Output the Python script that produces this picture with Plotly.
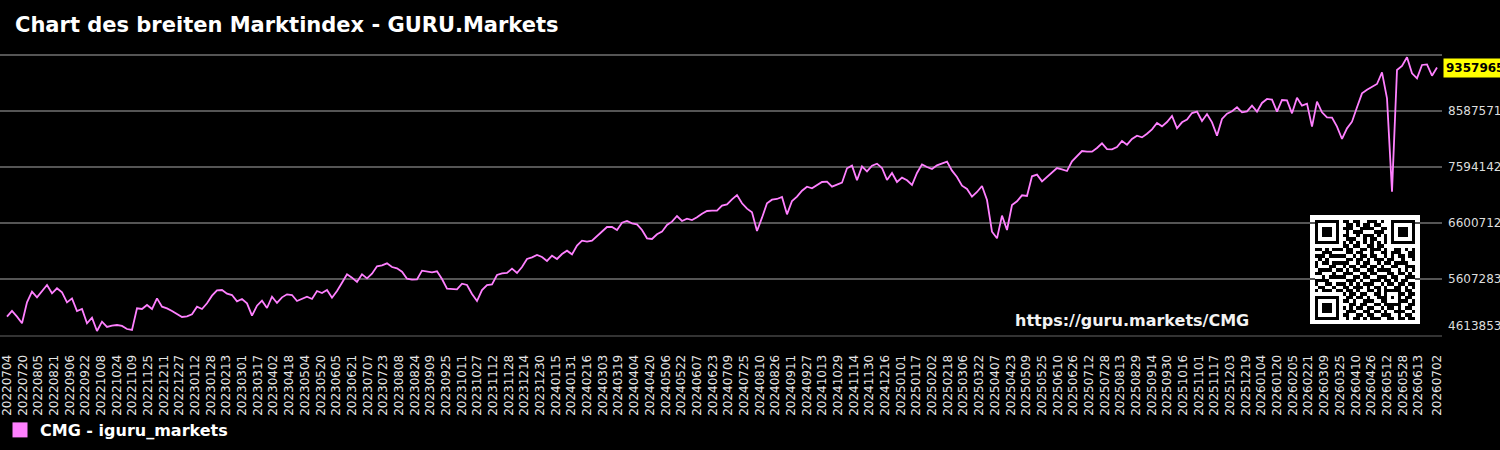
import pandas as pd
import plotly.graph_objects as go

# ---------------- data ----------------
title_text = "Chart des breiten Marktindex - GURU.Markets"
series_name = "CMG - iguru_markets"
url_text = "https://guru.markets/CMG"
start_date = "2022-07-04"
end_date = "2026-07-02"

cmg_values = [
    4939000, 5040000, 4939000, 4821000, 5193000, 5383000, 5282000, 5383000, 5501000, 5353000,
    5442000, 5371000, 5193000, 5264000, 5040000, 5075000, 4821000, 4921000, 4685000, 4850000,
    4756000, 4780000, 4791000, 4774000, 4720000, 4703000, 5087000, 5075000, 5146000, 5075000,
    5264000, 5117000, 5087000, 5040000, 4992000, 4933000, 4945000, 4981000, 5117000, 5075000,
    5176000, 5312000, 5406000, 5412000, 5347000, 5323000, 5211000, 5253000,
    5176000, 4957000, 5134000, 5223000, 5093000, 5294000, 5182000, 5282000, 5335000, 5323000,
    5217000, 5253000, 5294000, 5253000, 5394000, 5359000, 5412000, 5276000, 5394000, 5542000,
    5690000, 5631000, 5554000, 5690000, 5619000, 5702000, 5832000, 5850000, 5885000, 5820000,
    5797000, 5737000, 5613000, 5595000, 5601000, 5755000, 5737000, 5726000, 5743000, 5607000,
    5436000, 5430000, 5424000, 5525000, 5501000, 5341000, 5217000, 5412000,
    5501000, 5513000, 5678000, 5708000, 5714000, 5791000, 5714000, 5820000, 5962000, 5992000,
    6033000, 5998000, 5927000, 6021000, 5962000, 6051000, 6110000, 6045000, 6199000, 6287000,
    6270000, 6287000, 6370000, 6465000, 6530000, 6530000, 6477000, 6607000, 6636000, 6595000,
    6577000, 6477000, 6329000, 6317000, 6400000, 6447000, 6565000, 6624000, 6725000, 6636000,
    6678000, 6654000, 6701000, 6766000, 6814000, 6820000, 6820000, 6908000,
    6932000, 7021000, 7097000, 6950000, 6855000, 6790000, 6459000, 6695000, 6950000, 7015000,
    7027000, 7062000, 6754000, 6991000, 7068000, 7174000, 7245000, 7216000, 7269000, 7328000,
    7334000, 7245000, 7281000, 7316000, 7571000, 7618000, 7358000, 7606000, 7517000, 7618000,
    7653000, 7576000, 7364000, 7488000, 7328000, 7405000, 7358000, 7275000, 7488000, 7641000,
    7594000, 7559000, 7624000, 7653000, 7689000, 7529000, 7417000, 7263000,
    7204000, 7068000, 7151000, 7257000, 7009000, 6447000, 6329000, 6731000, 6477000, 6920000,
    6985000, 7092000, 7080000, 7429000, 7458000, 7340000, 7417000, 7499000, 7576000, 7553000,
    7523000, 7695000, 7783000, 7878000, 7866000, 7866000, 7931000, 8014000, 7913000, 7908000,
    7949000, 8055000, 7990000, 8091000, 8150000, 8120000, 8185000, 8262000, 8375000, 8316000,
    8392000, 8499000, 8280000, 8387000, 8434000, 8552000, 8576000, 8410000,
    8534000, 8387000, 8150000, 8446000, 8540000, 8582000, 8653000, 8564000, 8582000, 8682000,
    8576000, 8730000, 8801000, 8789000, 8576000, 8783000, 8777000, 8546000, 8824000, 8682000,
    8718000, 8310000, 8753000, 8564000, 8475000, 8469000, 8310000, 8091000, 8280000, 8398000,
    8653000, 8901000, 8966000, 9013000, 9067000, 9274000, 8812000, 7157000, 9315000, 9386000,
    9540000, 9256000, 9167000, 9404000, 9415000, 9214000, 9357965,
]

dates = pd.date_range(start_date, end_date, periods=len(cmg_values))

tick_dates = list(pd.date_range(start_date, "2026-06-13", freq="16D")) + [pd.Timestamp(end_date)]
tick_labels = [d.strftime("%Y%m%d") for d in tick_dates]

y_bottom_label = "4613853"
y_tick_values = [5607283, 6600712, 7594142, 8587571, 9581003]
y_tick_labels = ["5607283", "6600712", "7594142", "8587571", ""]
y_range = [4613853, 9616500]

qr_rows = [
    "11111110110110011101001111111",
    "10000010011010110110001000001",
    "10111010111001111001101011101",
    "10111010010111000111001011101",
    "10111010110010111010101011101",
    "10000010011100101100101000001",
    "11111110101010101010101111111",
    "00000000110110011011000000000",
    "11010111011001101110100110101",
    "00111000011011001001101110011",
    "11101111100101101100101011011",
    "01010000011011010111011001001",
    "10110111110010110010110111100",
    "10001100101101101101001100111",
    "01111011010110011011110010101",
    "11000100111001101100011011010",
    "00101111100110110011101100111",
    "11110000011101001110110101100",
    "10011011101010111001011011011",
    "01100100110111010110100110101",
    "10111011011010011010111110110",
    "00000000101101100110100011011",
    "11111110011011010011101010110",
    "10000010110100111001100011101",
    "10111010001101100110111110011",
    "10111010101011011001011010110",
    "10111010011100110110100111001",
    "10000010110011011001110010110",
    "11111110010110101110011011011",
]
qr_z = [[int(c) for c in row] for row in qr_rows]

line_color = "#ff80ff"

# ---------------- figure ----------------
fig = go.Figure()
fig.add_trace(go.Scatter(
    x=dates, y=cmg_values, mode="lines",
    line=dict(color=line_color, width=1.8),
    showlegend=False, hoverinfo="x+y",
))
fig.add_trace(go.Scatter(
    x=[None], y=[None], mode="markers",
    marker=dict(symbol="square", size=15, color=line_color),
    name=series_name, showlegend=True,
))
fig.add_trace(go.Heatmap(
    z=qr_z, xaxis="x2", yaxis="y2",
    colorscale=[[0, "#ffffff"], [1, "#000000"]], zmin=0, zmax=1,
    showscale=False, hoverinfo="skip",
))

W, H = 1500, 450
pl, pr, pt, pb = 0, 1442, 53, 335
plot_w, plot_h = pr - pl, pb - pt

def px_x(x):
    return (x - pl) / plot_w

def px_y(y):
    return (pb - y) / plot_h

fig.update_layout(
    width=W, height=H,
    paper_bgcolor="#000000", plot_bgcolor="#000000",
    margin=dict(l=pl, r=W - pr, t=pt, b=H - pb, autoexpand=False),
    font=dict(family="DejaVu Sans", color="#ffffff"),
    title=dict(
        text=title_text, x=15 / W, xanchor="left", xref="container",
        y=1 - 25 / H, yanchor="middle", yref="container",
        font=dict(size=21, color="#ffffff", weight="bold"),
    ),
    xaxis=dict(
        type="date",
        range=["2022-06-26 20:35", "2026-07-07 02:30"],
        tickmode="array", tickvals=tick_dates, ticktext=tick_labels,
        tickangle=-90, tickfont=dict(size=12, color="#e6e6e6"),
        ticks="", ticklabelstandoff=13, ticklabeloverflow="allow",
        showgrid=False, zeroline=False,
        showline=True, linecolor="#333333", linewidth=2,
    ),
    yaxis=dict(
        side="right", range=y_range,
        tickmode="array", tickvals=y_tick_values, ticktext=y_tick_labels,
        tickfont=dict(size=12, color="#dddddd"),
        ticks="", ticklabelstandoff=5,
        showgrid=True, gridcolor="#555555", gridwidth=2,
        zeroline=False, showline=False,
    ),
    xaxis2=dict(domain=[px_x(1315), px_x(1415)], anchor="y2", visible=False,
                range=[-0.5, 28.5], showgrid=False),
    yaxis2=dict(domain=[px_y(320), px_y(220)], anchor="x2", visible=False,
                range=[28.5, -0.5], showgrid=False),
    legend=dict(
        orientation="h", x=-3 / W, xref="container", xanchor="left",
        y=1 - 430 / H, yref="container", yanchor="middle",
        font=dict(size=16, color="#ffffff", weight="bold"),
        bgcolor="rgba(0,0,0,0)",
    ),
    shapes=[dict(
        type="rect", xref="paper", yref="paper",
        x0=px_x(1310), x1=px_x(1420), y0=px_y(324), y1=px_y(215),
        fillcolor="#ffffff", line=dict(width=0), layer="between",
    )],
    annotations=[
        dict(text=url_text, xref="paper", yref="paper", x=px_x(1013), y=px_y(320),
             xanchor="left", yanchor="middle", showarrow=False,
             font=dict(size=16, color="#f2f2f2", weight="bold")),
        dict(text=str(cmg_values[-1]), xref="paper", yref="y", x=1, y=cmg_values[-1],
             xanchor="left", yanchor="middle", xshift=1, showarrow=False,
             bgcolor="#ffff00", borderpad=2,
             font=dict(size=12, color="#000000", weight="bold")),
        dict(text=y_bottom_label, xref="paper", yref="paper", x=1, y=px_y(326),
             xanchor="left", yanchor="middle", xshift=4, showarrow=False,
             font=dict(size=12, color="#dddddd")),
    ],
)

fig.write_html("out.html")
